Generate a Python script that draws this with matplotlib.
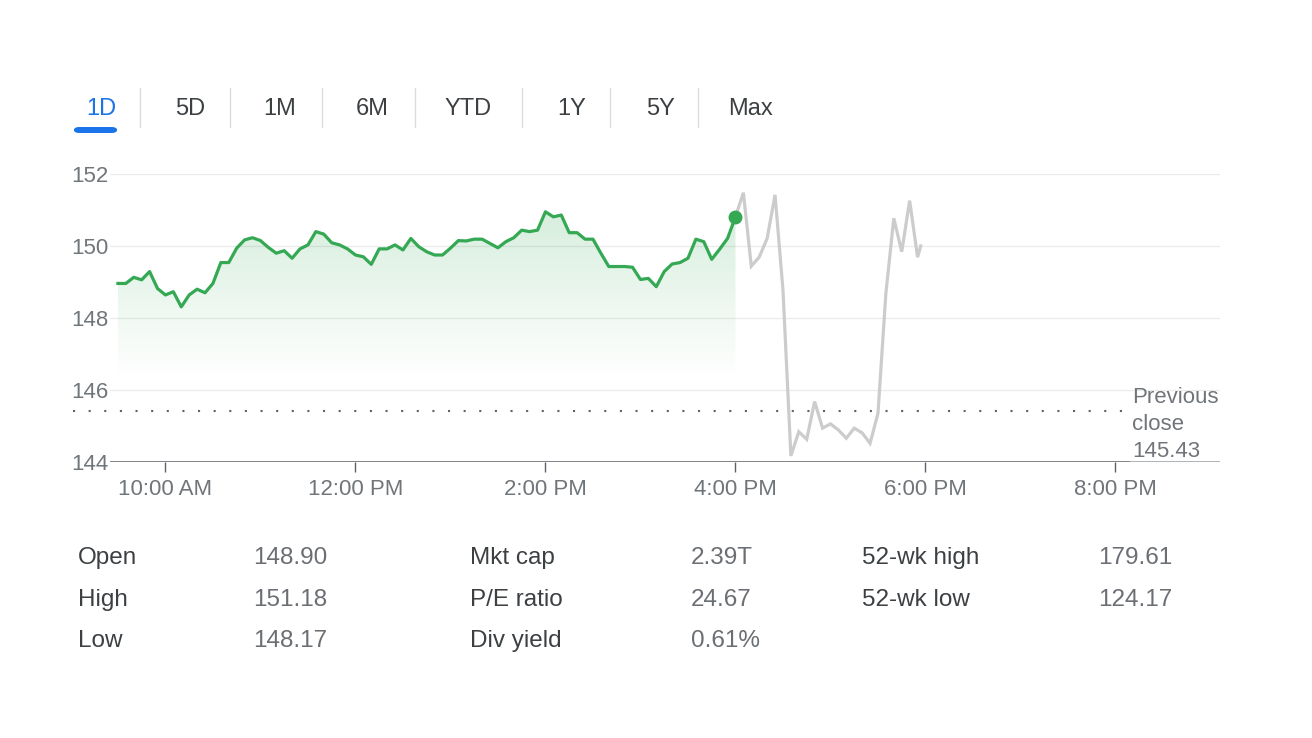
import numpy as np
import matplotlib
matplotlib.use("Agg")
import matplotlib.pyplot as plt
from matplotlib.patches import FancyBboxPatch
from matplotlib.lines import Line2D
import matplotlib.transforms as mtransforms

plt.rcParams["font.family"] = ["Liberation Sans", "DejaVu Sans"]

# --- data ---------------------------------------------------------------
tabs = ["1D", "5D", "1M", "6M", "YTD", "1Y", "5Y", "Max"]

# regular session, 5 minute bars from 9:30 to 16:00 (minutes after midnight)
session_min = np.arange(570, 961, 5)
session_px = [148.96, 148.96, 149.13, 149.06, 149.29, 148.82, 148.64, 148.73, 148.31, 148.64,
              148.80, 148.70, 148.96, 149.54, 149.54, 149.94, 150.17, 150.23, 150.15, 149.96,
              149.80, 149.87, 149.66, 149.92, 150.03, 150.40, 150.33, 150.09, 150.03, 149.92,
              149.75, 149.70, 149.49, 149.92, 149.92, 150.03, 149.89, 150.21, 149.98, 149.84,
              149.75, 149.75, 149.94, 150.15, 150.14, 150.19, 150.19, 150.07, 149.95, 150.12,
              150.23, 150.44, 150.40, 150.44, 150.95, 150.81, 150.86, 150.37, 150.37, 150.19,
              150.19, 149.80, 149.43, 149.43, 149.43, 149.41, 149.07, 149.10, 148.87, 149.29,
              149.50, 149.54, 149.66, 150.19, 150.12, 149.63, 149.91, 150.21, 150.81]

# after hours
after_min = [960, 965, 970, 975, 980, 985, 990, 995, 1000, 1005, 1010, 1015, 1020,
             1025, 1030, 1035, 1040, 1045, 1050, 1055, 1060, 1065, 1070, 1075, 1077]
after_px = [150.81, 151.48, 149.44, 149.69, 150.21, 151.42, 148.78, 144.17, 144.84, 144.63,
            145.68, 144.94, 145.06, 144.89, 144.66, 144.94, 144.81, 144.52, 145.35, 148.69,
            150.77, 149.84, 151.26, 149.69, 150.00]

prev_close = 145.43
y_ticks = [144, 146, 148, 150, 152]
x_ticks = [600, 720, 840, 960, 1080, 1200]
x_labels = ["10:00 AM", "12:00 PM", "2:00 PM", "4:00 PM", "6:00 PM", "8:00 PM"]

stats = [
    [("Open", "148.90"), ("High", "151.18"), ("Low", "148.17")],
    [("Mkt cap", "2.39T"), ("P/E ratio", "24.67"), ("Div yield", "0.61%")],
    [("52-wk high", "179.61"), ("52-wk low", "124.17")],
]

# --- colours ------------------------------------------------------------
green = "#34a853"
grey_line = "#cccccc"
text_grey = "#70757a"
dark_text = "#3c4043"
blue = "#1a73e8"

W, H = 1312, 738
fig = plt.figure(figsize=(W / 100, H / 100), dpi=100)
fig.patch.set_facecolor("white")


def fx(px):
    return px / W


def fy(py):
    return 1 - py / H


# --- tab bar ------------------------------------------------------------
tab_x = [101, 190, 280, 372, 468, 572, 661, 751]
sep_x = [140, 230, 322, 415, 522, 610, 698]
for name, x in zip(tabs, tab_x):
    fig.text(fx(x), fy(109), name, ha="center", va="center", fontsize=17,
             color=blue if name == "1D" else dark_text)
for x in sep_x:
    fig.add_artist(Line2D([fx(x), fx(x)], [fy(88), fy(127)], color="#dadce0", lw=1))
fig.add_artist(FancyBboxPatch((fx(74), fy(133)), fx(43), 6 / H,
                              boxstyle="round,pad=0,rounding_size=0.004",
                              transform=fig.transFigure, facecolor=blue, edgecolor="none"))

# --- chart --------------------------------------------------------------
ax = fig.add_axes([fx(110), fy(462), fx(1220) - fx(110), (462 - 174) / H])
ax.set_xlim(565, 1266)
ax.set_ylim(144, 152)
for s in ax.spines.values():
    s.set_visible(False)

ax.set_yticks(y_ticks)
ax.set_yticklabels([str(v) for v in y_ticks])
ax.tick_params(axis="y", length=0, pad=1, labelsize=16, labelcolor=text_grey)
ax.yaxis.grid(True, color="#ebebeb", lw=0.9)
ax.set_axisbelow(True)

ax.set_xticks(x_ticks)
ax.set_xticklabels(x_labels)
ax.tick_params(axis="x", length=7, width=1, color="#5f6368", pad=5,
               labelsize=16, labelcolor=text_grey)

# bottom baseline: dark part, lighter part under the label
ax.axhline(144, xmin=0, xmax=(1130 - 110) / 1110, color="#5f6368", lw=1.1, zorder=3)
ax.axhline(144, xmin=(1130 - 110) / 1110, xmax=1, color="#9aa0a6", lw=1.1, zorder=3)

# gradient fill under session line
poly = ax.fill_between(session_min, session_px, 144, facecolor="none", edgecolor="none")
grad = np.zeros((256, 1, 4))
grad[:, 0, 0] = 52 / 255
grad[:, 0, 1] = 168 / 255
grad[:, 0, 2] = 83 / 255
grad[:, 0, 3] = np.linspace(0, 0.2, 256)
im = ax.imshow(grad, extent=[session_min[0], session_min[-1], 146.3, 151.0],
               origin="lower", aspect="auto", zorder=1)
im.set_clip_path(poly.get_paths()[0], transform=ax.transData)

ax.plot(after_min, after_px, color=grey_line, lw=2.3, zorder=2, solid_joinstyle="miter")
ax.plot(session_min, session_px, color=green, lw=2.3, zorder=4, solid_joinstyle="round")
ax.plot(session_min[-1], session_px[-1], "o", color=green, ms=9, zorder=5)

# previous close dotted line
trans = mtransforms.blended_transform_factory(ax.transAxes, ax.transData)
ax.plot([(73 - 110) / 1110, (1122 - 110) / 1110], [prev_close, prev_close], transform=trans,
        color="#5f6368", lw=1.5, dashes=(1, 6.5), clip_on=False, zorder=3)
label_off = mtransforms.offset_copy(trans, fig=fig, x=0, y=-14 * 0.72, units="points")
ax.text((1132 - 110) / 1110, prev_close, f"Previous\nclose\n{prev_close:.2f}", transform=label_off,
        ha="left", va="center", fontsize=16, color=text_grey, linespacing=1.35)

# --- stats table --------------------------------------------------------
col_label_x = [78, 470, 862]
col_value_x = [253, 691, 1098]
row_y = [558, 600, 641]
for ci, col in enumerate(stats):
    for ri, (lab, val) in enumerate(col):
        fig.text(fx(col_label_x[ci]), fy(row_y[ri]), lab, ha="left", va="center",
                 fontsize=17.5, color=dark_text)
        fig.text(fx(col_value_x[ci]), fy(row_y[ri]), val, ha="left", va="center",
                 fontsize=17.5, color="#6b6f73")

fig.savefig("out.png", dpi=100, facecolor="white")
